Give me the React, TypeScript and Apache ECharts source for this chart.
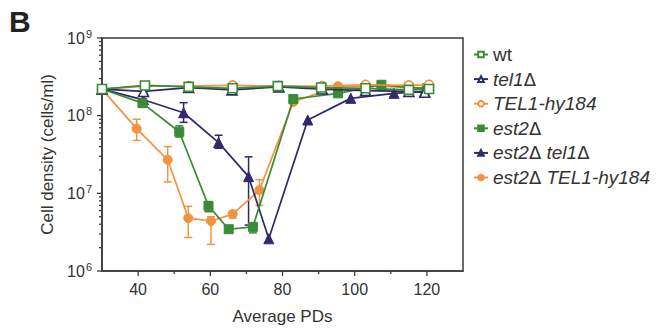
import React, { useEffect, useRef } from "react";
import * as echarts from "echarts";

const seriesNames = ["wt", "tel1Δ", "TEL1-hy184", "est2Δ", "est2Δ tel1Δ", "est2Δ TEL1-hy184"];

const wt = [[30, 2.2e8], [41.9, 2.45e8], [54, 2.35e8], [66.2, 2.25e8], [78.7, 2.4e8], [90.7, 2.3e8], [103, 2.25e8], [115, 2.15e8], [120.6, 2.2e8]];
const tel1 = [[30, 2.2e8], [41.5, 2.05e8], [54, 2.3e8], [66, 2.15e8], [79, 2.35e8], [91, 2.2e8], [103, 2.1e8], [115, 2.05e8], [119.4, 2.0e8]];
const hy184 = [[30, 2.2e8], [42, 2.4e8], [54, 2.4e8], [66.2, 2.45e8], [78.7, 2.4e8], [91, 2.4e8], [103, 2.5e8], [115, 2.45e8], [120.6, 2.5e8]];
const est2 = [[30, 2.2e8], [41.2, 1.45e8], [51.4, 6.2e7], [59.5, 6.9e6], [65.1, 3.45e6], [71.8, 3.7e6], [83, 1.64e8], [95.4, 1.94e8], [107.4, 2.5e8], [115, 2.3e8], [120, 2.25e8]];
const est2tel1 = [[30, 2.2e8], [41.5, 1.6e8], [52.6, 1.09e8], [62.3, 4.5e7], [70.6, 1.64e7], [76.2, 2.6e6], [87, 8.8e7], [98.9, 1.67e8], [110.9, 1.94e8], [119.4, 2.05e8]];
const est2hy184 = [[30, 2.2e8], [39.6, 6.8e7], [48.2, 2.7e7], [53.9, 4.8e6], [60.2, 4.4e6], [66.2, 5.4e6], [73.6, 1.1e7], [83, 1.5e8], [95.4, 2.4e8], [107.4, 2.4e8], [115, 2.3e8], [120, 2.3e8]];

// error bars: [x, low, high]
const est2Err = [[41.2, 1.3e8, 1.65e8], [51.4, 5.3e7, 7.4e7], [59.5, 5.8e6, 7.8e6], [65.1, 3.2e6, 3.7e6], [71.8, 3.1e6, 4.1e6]];
const est2tel1Err = [[52.6, 8.2e7, 1.47e8], [62.3, 3.8e7, 5.6e7], [70.6, 3.9e6, 2.95e7]];
const est2hy184Err = [[39.6, 4.8e7, 9.0e7], [48.2, 1.4e7, 4.0e7], [53.9, 2.7e6, 6.8e6], [60.2, 2.2e6, 5.0e6], [66.2, 4.8e6, 6.0e6], [73.6, 7.0e6, 1.5e7]];

const xMajorTicks = [40, 60, 80, 100, 120];
const xMinorTicks = [50, 70, 90, 110];
const yMajorTicks = [1e6, 1e7, 1e8, 1e9];
const yDecades = [1e6, 1e7, 1e8];
const yMinorFactors = [2, 3, 4, 5, 6, 7, 8, 9];

const GREEN = "#3a8a36";
const NAVY = "#2e2a6c";
const ORANGE = "#f2933f";
const AXIS = "#3a3a3a";
const FONT = "Liberation Sans, Arial, sans-serif";

export default function App() {
  const ref = useRef<HTMLDivElement>(null);
  useEffect(() => {
    if (!ref.current) return;
    const chart = echarts.init(ref.current, undefined, { renderer: "svg" });

    const tickData: number[][] = [];
    xMajorTicks.forEach((v) => tickData.push([v, 1e6, 0]));
    xMinorTicks.forEach((v) => tickData.push([v, 1e6, 1]));
    yMajorTicks.forEach((v) => tickData.push([30, v, 2]));
    yDecades.forEach((d) => yMinorFactors.forEach((f) => tickData.push([30, d * f, 3])));

    const errSeries = (name: string, data: number[][], color: string) => ({
      type: "custom",
      name: name + "-err",
      clip: false,
      z: 1,
      data,
      renderItem: (params: any, api: any) => {
        const x = api.value(0);
        const lo = api.coord([x, api.value(1)]);
        const hi = api.coord([x, api.value(2)]);
        const w = 4;
        const style = { stroke: color, lineWidth: 1.5 };
        return {
          type: "group",
          children: [
            { type: "line", shape: { x1: lo[0], y1: lo[1], x2: hi[0], y2: hi[1] }, style },
            { type: "line", shape: { x1: lo[0] - w, y1: lo[1], x2: lo[0] + w, y2: lo[1] }, style },
            { type: "line", shape: { x1: hi[0] - w, y1: hi[1], x2: hi[0] + w, y2: hi[1] }, style },
          ],
        };
      },
    });

    const lineSeries = (name: string, data: number[][], color: string, symbol: string, size: number, open: boolean, z: number) => ({
      type: "line",
      name,
      data,
      symbol,
      symbolSize: size,
      z,
      showAllSymbol: true,
      lineStyle: { color, width: 1.7 },
      itemStyle: open
        ? { color: "#ffffff", borderColor: color, borderWidth: 1.6 }
        : { color, borderColor: color, borderWidth: 1 },
      emphasis: { disabled: true },
    });

    const legendFormatter = (name: string) => {
      if (name === "wt") return "{n|wt}";
      return name
        .split("Δ")
        .map((p) => (p ? "{i|" + p + "}" : ""))
        .join("{d|Δ}");
    };

    chart.setOption({
      animation: false,
      textStyle: { fontFamily: FONT },
      grid: {
        left: 102,
        right: 193,
        top: 38,
        bottom: 59,
        show: true,
        borderColor: AXIS,
        borderWidth: 1.5,
        backgroundColor: "transparent",
      },
      graphic: [
        {
          type: "text",
          left: 9,
          top: 6,
          style: { text: "B", fontSize: 30, fontWeight: "bold", fill: "#222", fontFamily: FONT },
        },
      ],
      legend: {
        data: seriesNames,
        orient: "vertical",
        left: 468,
        top: 40,
        itemWidth: 14,
        itemHeight: 7,
        itemGap: 5.6,
        selectedMode: false,
        formatter: legendFormatter,
        textStyle: {
          color: "#333",
          fontSize: 19,
          lineHeight: 19,
          rich: {
            n: { fontSize: 19, color: "#333", fontFamily: FONT },
            i: { fontSize: 19, color: "#333", fontStyle: "italic", fontFamily: FONT },
            d: { fontSize: 18, color: "#333", fontFamily: "DejaVu Sans, sans-serif" },
          },
        },
      },
      xAxis: {
        type: "value",
        min: 30,
        max: 130,
        interval: 10,
        name: "Average PDs",
        nameLocation: "middle",
        nameGap: 37,
        nameTextStyle: { fontSize: 17, color: "#333" },
        axisLine: { show: true, lineStyle: { color: AXIS, width: 1.5 } },
        axisTick: { show: false },
        splitLine: { show: false },
        axisLabel: {
          fontSize: 16,
          color: "#333",
          margin: 10,
          formatter: (v: number) => (xMajorTicks.includes(v) ? String(v) : ""),
        },
      },
      yAxis: {
        type: "log",
        logBase: 10,
        min: 1e6,
        max: 1e9,
        name: "Cell density (cells/ml)",
        nameLocation: "middle",
        nameGap: 46,
        nameTextStyle: { fontSize: 17, color: "#333" },
        axisLine: { show: true, lineStyle: { color: AXIS, width: 1.5 } },
        axisTick: { show: false },
        splitLine: { show: false },
        axisLabel: {
          margin: 10,
          color: "#333",
          formatter: (v: number) => "{b|10}{s|" + Math.round(Math.log10(v)) + "}",
          rich: {
            b: { fontSize: 16, color: "#333" },
            s: { fontSize: 11, color: "#333", padding: [0, 0, 9, 1] },
          },
        },
      },
      series: [
        {
          type: "custom",
          name: "ticks",
          clip: false,
          silent: true,
          data: tickData,
          renderItem: (params: any, api: any) => {
            const p = api.coord([api.value(0), api.value(1)]);
            const k = api.value(2);
            const style = { stroke: AXIS, lineWidth: 1.3 };
            if (k === 0) return { type: "line", shape: { x1: p[0], y1: p[1], x2: p[0], y2: p[1] + 5 }, style };
            if (k === 1) return { type: "line", shape: { x1: p[0], y1: p[1], x2: p[0], y2: p[1] + 3 }, style };
            if (k === 2) return { type: "line", shape: { x1: p[0], y1: p[1], x2: p[0] - 5, y2: p[1] }, style };
            return { type: "line", shape: { x1: p[0], y1: p[1], x2: p[0] - 3, y2: p[1] }, style };
          },
        },
        errSeries("est2Δ TEL1-hy184", est2hy184Err, ORANGE),
        errSeries("est2Δ tel1Δ", est2tel1Err, NAVY),
        errSeries("est2Δ", est2Err, GREEN),
        lineSeries("est2Δ TEL1-hy184", est2hy184, ORANGE, "circle", 9, false, 2),
        lineSeries("est2Δ tel1Δ", est2tel1, NAVY, "triangle", 10, false, 3),
        lineSeries("est2Δ", est2, GREEN, "rect", 9, false, 4),
        lineSeries("TEL1-hy184", hy184, ORANGE, "circle", 9, true, 5),
        lineSeries("tel1Δ", tel1, NAVY, "triangle", 10, true, 6),
        lineSeries("wt", wt, GREEN, "rect", 9, true, 7),
      ],
    });
    return () => chart.dispose();
  }, []);
  return <div ref={ref} style={{ position: "absolute", left: 0, top: 0, width: 656, height: 330 }} />;
}
